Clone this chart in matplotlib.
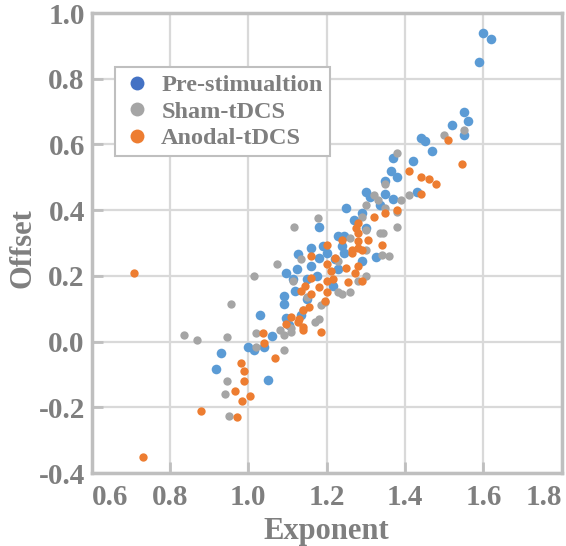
import matplotlib.pyplot as plt
from matplotlib.lines import Line2D

plt.rcParams["font.family"] = ["Liberation Serif", "DejaVu Serif"]
plt.rcParams["font.weight"] = "bold"

TEXT = "#7F7F7F"
FRAME = "#BFBFBF"
GRID = "#D9D9D9"

# exponent / offset values
pre_x = [1.60, 1.62, 1.59, 1.55, 1.56, 1.52, 1.55, 1.44, 1.45, 1.47,
         1.37, 1.42, 1.365, 1.38, 1.35, 1.30, 1.35, 1.43, 1.31, 1.37,
         1.335, 1.25, 1.29, 1.27, 1.18, 1.30, 1.23, 1.245, 1.24, 1.16,
         1.19, 1.20, 1.245, 1.127, 1.18, 1.22, 1.29, 1.16, 1.325, 1.125,
         1.23, 1.095, 1.175, 1.115, 1.15, 1.215, 1.12, 1.09, 1.15, 1.09,
         1.03, 1.095, 1.135, 1.06, 1.00, 1.015, 1.04, 0.93, 0.918, 1.05,
         1.105]
pre_y = [0.94, 0.92, 0.85, 0.70, 0.67, 0.66, 0.63, 0.62, 0.61, 0.58,
         0.56, 0.55, 0.52, 0.50, 0.49, 0.455, 0.45, 0.455, 0.44, 0.435,
         0.417, 0.405, 0.39, 0.37, 0.35, 0.345, 0.32, 0.32, 0.29, 0.285,
         0.29, 0.27, 0.27, 0.267, 0.255, 0.25, 0.245, 0.23, 0.258, 0.22,
         0.22, 0.21, 0.20, 0.19, 0.19, 0.17, 0.155, 0.14, 0.13, 0.115,
         0.08, 0.073, 0.08, 0.017, -0.018, -0.027, -0.017, -0.035, -0.083, -0.116,
         0.05]

sham_x = [1.55, 1.50, 1.38, 1.35, 1.32, 1.33, 1.41, 1.39, 1.30, 1.35,
          1.38, 1.178, 1.29, 1.117, 1.38, 1.30, 1.335, 1.345, 1.26, 1.30,
          1.36, 1.34, 1.135, 1.073, 1.228, 1.015, 1.115, 1.28, 1.30, 1.23,
          1.24, 1.26, 1.15, 1.195, 1.185, 0.955, 1.14, 1.18, 1.17, 1.11,
          1.08, 1.11, 1.09, 1.02, 0.835, 0.87, 0.945, 1.02, 1.09, 0.945,
          0.94, 0.95]
sham_y = [0.645, 0.63, 0.575, 0.48, 0.445, 0.43, 0.445, 0.43, 0.415, 0.405,
          0.395, 0.375, 0.38, 0.35, 0.35, 0.34, 0.33, 0.33, 0.315, 0.28,
          0.26, 0.265, 0.25, 0.235, 0.245, 0.20, 0.185, 0.185, 0.20, 0.15,
          0.145, 0.15, 0.135, 0.12, 0.11, 0.115, 0.095, 0.07, 0.06, 0.04,
          0.035, 0.03, 0.02, 0.025, 0.02, 0.005, 0.015, -0.015, -0.025, -0.12,
          -0.16, -0.225]

anodal_x = [1.51, 1.545, 1.41, 1.44, 1.46, 1.48, 1.44, 1.38, 1.35, 1.32,
            1.28, 1.275, 1.28, 1.24, 1.305, 1.28, 1.20, 1.34, 1.265, 1.28,
            1.29, 1.265, 1.16, 1.22, 1.20, 1.28, 1.25, 1.21, 1.273, 1.16,
            1.215, 1.20, 1.29, 1.255, 1.145, 1.18, 1.135, 1.20, 1.16, 1.195,
            1.155, 1.14, 1.11, 1.13, 1.095, 1.127, 1.14, 1.14, 1.185, 1.037,
            1.04, 1.067, 0.98, 0.99, 0.99, 0.965, 1.005, 0.985, 0.97, 0.88,
            0.707, 0.73]
anodal_y = [0.615, 0.54, 0.52, 0.50, 0.495, 0.48, 0.45, 0.40, 0.39, 0.38,
            0.36, 0.345, 0.33, 0.31, 0.31, 0.305, 0.295, 0.295, 0.28, 0.285,
            0.28, 0.27, 0.26, 0.255, 0.235, 0.23, 0.225, 0.215, 0.21, 0.195,
            0.19, 0.185, 0.185, 0.18, 0.17, 0.165, 0.155, 0.15, 0.145, 0.125,
            0.105, 0.095, 0.075, 0.07, 0.055, 0.06, 0.045, 0.035, 0.03, 0.025,
            -0.005, -0.05, -0.065, -0.09, -0.12, -0.15, -0.165, -0.18, -0.23, -0.21,
            0.21, -0.35]

labels = ["Pre-stimualtion", "Sham-tDCS", "Anodal-tDCS"]
x_ticks = [0.6, 0.8, 1.0, 1.2, 1.4, 1.6, 1.8]
y_ticks = [-0.4, -0.2, 0.0, 0.2, 0.4, 0.6, 0.8, 1.0]

fig = plt.figure(figsize=(5.66, 5.46), dpi=100)
ax = fig.add_axes([91.7 / 566, 1 - 473 / 546, 470 / 566, 460 / 546])

ax.scatter(pre_x, pre_y, s=48, color="#5B9BD5", linewidths=0, zorder=3)
ax.scatter(sham_x, sham_y, s=36, color="#A5A5A5", linewidths=0, zorder=3)
ax.scatter(anodal_x, anodal_y, s=36, color="#ED7D31", linewidths=0, zorder=3)

ax.set_xlim(0.6, 1.8)
ax.set_ylim(-0.4, 1.0)
ax.set_xticks(x_ticks)
ax.set_yticks(y_ticks)
ax.set_xticklabels([f"{v:.1f}" for v in x_ticks])
ax.set_yticklabels([f"{v:.1f}" for v in y_ticks])
xl = ax.get_xticklabels()
xl[0].set_ha("left")
xl[-1].set_ha("right")

ax.grid(True, color=GRID, linewidth=1.6, zorder=0)
ax.set_axisbelow(True)
for s in ax.spines.values():
    s.set_color(FRAME)
    s.set_linewidth(2.5)
ax.tick_params(direction="in", length=8, width=2, color=FRAME,
               labelcolor=TEXT, labelsize=21)
ax.tick_params(axis="x", pad=8)
ax.tick_params(axis="y", pad=5)

ax.set_xlabel("Exponent", fontsize=22, color=TEXT, fontweight="bold")
ax.set_ylabel("Offset", fontsize=22, color=TEXT, fontweight="bold")
ax.xaxis.set_label_coords(0.5, -0.095)
ax.yaxis.set_label_coords(-0.115, 0.49)

handles = [Line2D([], [], ls="", marker="o", ms=10, mec="none", color=c)
           for c in ["#4472C4", "#A5A5A5", "#ED7D31"]]
leg = ax.legend(handles, labels, loc="upper left", bbox_to_anchor=(0.0496, 0.8826),
                fontsize=17.5, labelcolor=TEXT, frameon=True, fancybox=False,
                edgecolor=FRAME, framealpha=1, borderpad=0.3, labelspacing=0.18,
                handletextpad=0.4, handlelength=1.2, borderaxespad=0)
leg.get_frame().set_linewidth(1.5)
for t in leg.get_texts():
    t.set_fontweight("bold")

plt.savefig("out.png", dpi=100)
plt.close()
